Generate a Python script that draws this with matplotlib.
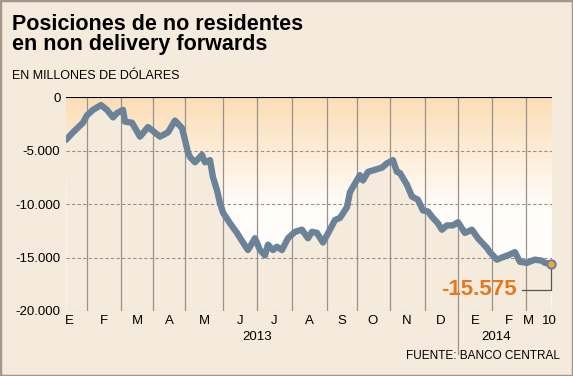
import matplotlib.pyplot as plt
import numpy as np
from matplotlib.colors import LinearSegmentedColormap
from matplotlib.patches import Rectangle

plt.rcParams['font.family'] = ['Liberation Sans', 'DejaVu Sans']

# position along the x axis (irregular month widths, as in the original)
pos = [0, 7, 17, 21, 27, 35, 41, 47, 51, 57, 59, 66, 74, 82, 94, 102, 109, 116, 119, 122,
       124, 129, 136, 139, 144, 147, 151, 154, 157, 164, 171, 177, 182, 189, 194, 199,
       202, 207, 211, 216, 222, 229, 236, 242, 246, 251, 257, 264, 269, 274, 281, 284,
       287, 294, 297, 302, 309, 316, 321, 327, 331, 334, 341, 346, 352, 357, 362, 367,
       372, 376, 381, 387, 392, 399, 406, 412, 421, 424, 431, 436, 442, 449, 454, 461,
       469, 476, 479, 485]
valor = [-4000, -3300, -2400, -1700, -1200, -750, -1200, -1900, -1500, -1200, -2300,
         -2400, -3700, -2800, -3700, -3300, -2200, -2900, -4000, -5200, -5600, -6100,
         -5400, -6100, -5900, -7500, -8700, -9900, -10800, -11800, -12700, -13600, -14300,
         -13200, -14300, -14800, -13800, -14300, -14000, -14300, -13200, -12600, -12400,
         -13200, -12600, -12700, -13600, -12400, -11500, -11300, -10300, -8900, -8400,
         -7300, -7800, -7000, -6800, -6600, -6200, -5900, -7000, -7100, -8200, -9300,
         -9600, -10600, -10700, -11300, -11800, -12400, -12000, -12000, -11700, -12700,
         -12400, -13200, -14100, -14500, -15200, -15000, -14800, -14500, -15400, -15500,
         -15200, -15300, -15500, -15575]

limites_mes = [21, 55, 87, 119, 157, 191, 226, 261, 291, 324, 359, 392, 426, 460]
fin_x = 486
meses = ['E', 'F', 'M', 'A', 'M', 'J', 'J', 'A', 'S', 'O', 'N', 'D', 'E', 'F', 'M', '10']
pos_meses = [3, 38, 71, 103, 138, 174, 208, 243, 276, 307, 341, 375, 409, 443, 463, 483]
anios = ['2013', '2014']
pos_anios = [191, 430]
yticks = [0, -5000, -10000, -15000, -20000]
ytick_labels = ['0', '-5.000', '-10.000', '-15.000', '-20.000']

bg = '#F5EBDC'
line_color = '#6B8399'

fig = plt.figure(figsize=(5.73, 3.76), dpi=100, facecolor=bg)
fig.patches.append(Rectangle((0, 0), 1, 1, transform=fig.transFigure, fill=False,
                             edgecolor='#A3978B', linewidth=2.5))

ax = fig.add_axes([0.1152, 0.1729, 0.848, 0.569])
ax.set_xlim(0, fin_x)
ax.set_ylim(-20000, 0)

# gradient background
cmap = LinearSegmentedColormap.from_list('g', ['#FFFFFF', '#FFFCF8', '#FCDDB6'])
grad = np.linspace(0, 1, 256).reshape(-1, 1)
ax.imshow(grad, cmap=cmap, origin='lower', aspect='auto',
          extent=[0, fin_x, -20000, 0], zorder=0)

ax.fill_between(pos, valor, -20000, color=bg, zorder=1, linewidth=0)

for y in yticks[1:]:
    ax.axhline(y, color='#9A9188', linestyle=(0, (3, 2)), linewidth=0.8, zorder=2)
for x in limites_mes:
    ax.axvline(x, color='#9A9188', linewidth=0.9, zorder=2)
ax.plot([limites_mes[11], limites_mes[11]], [-20000, -24000], color='#9A9188',
        linewidth=0.9, clip_on=False)
ax.axhline(0, color='black', linewidth=1.5, zorder=3)

ax.plot(pos, valor, color=line_color, linewidth=4.6, solid_capstyle='round',
        solid_joinstyle='round', zorder=4)
ax.plot(pos[-1], valor[-1], 'o', color='#F5A73A', markersize=6,
        markeredgecolor=line_color, markeredgewidth=1.5, zorder=5, clip_on=False)

# annotation
ax.plot([pos[-1] - 29, pos[-1], pos[-1]], [-18000, -18000, valor[-1] - 500],
        color='#555555', linewidth=0.9, zorder=3, clip_on=False)
ax.text(pos[-1] - 34, -18000, '{:,}'.format(valor[-1]).replace(',', '.'),
        color='#E8781E', fontsize=16, fontweight='bold', ha='right', va='center',
        zorder=6)

for s in ax.spines.values():
    s.set_visible(False)
ax.set_xticks([])
ax.set_yticks(yticks)
ax.set_yticklabels(ytick_labels, fontsize=9.5)
ax.tick_params(axis='y', length=0, pad=4)

for m, x in zip(meses, pos_meses):
    ax.text(x, -20400, m, ha='center', va='top', fontsize=9.5)
for a, x in zip(anios, pos_anios):
    ax.text(x, -21900, a, ha='center', va='top', fontsize=9.5)

fig.text(12 / 573, 1 - 14 / 376, 'Posiciones de no residentes\nen non delivery forwards',
         ha='left', va='top', fontsize=15.5, fontweight='bold', linespacing=0.92)
fig.text(12 / 573, 1 - 76 / 376, 'EN MILLONES DE DÓLARES', ha='left', va='center',
         fontsize=9)
fig.text(560 / 573, 1 - 356 / 376, 'FUENTE: BANCO CENTRAL', ha='right', va='center',
         fontsize=8.5)

plt.savefig('out.png', dpi=100, facecolor=bg)
plt.close()
